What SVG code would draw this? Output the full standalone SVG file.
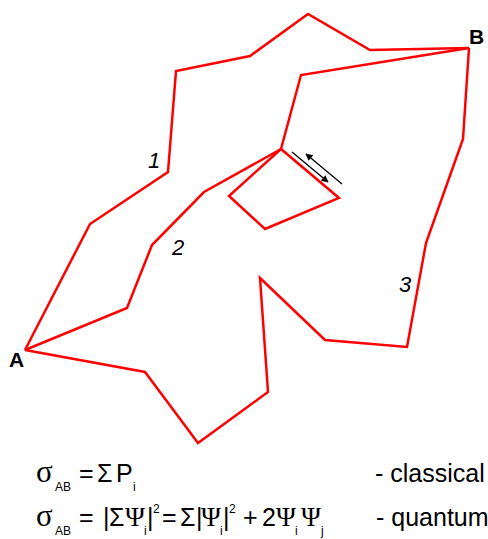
<svg xmlns="http://www.w3.org/2000/svg" width="488" height="539" viewBox="0 0 488 539">
<style>
.p{fill:none;stroke:#ff0000;stroke-width:2.5;stroke-linejoin:miter}
.a{stroke:#000;stroke-width:1.3;fill:none}
.t{font-family:"Liberation Sans",Arial,sans-serif;fill:#000}
.f{font-family:"Liberation Sans",Arial,sans-serif;font-size:25px;fill:#000}
.g{font-family:"Liberation Serif","Times New Roman",serif;font-size:27px;fill:#000}
.sg{font-family:"Liberation Serif","Times New Roman",serif;font-size:31px;fill:#000}
.s{font-family:"Liberation Sans",Arial,sans-serif;font-size:12px;fill:#000}
</style>
<defs>
<marker id="ah" viewBox="0 0 10 10" refX="9" refY="5" markerWidth="9" markerHeight="7" orient="auto" markerUnits="userSpaceOnUse">
<path d="M0,0L10,5L0,10z" fill="#000"/>
</marker>
</defs>
<g id="connectors">
<polyline id="path1" class="p" points="25,350 90,224 168,172 176,71 250,56 308,14 370,50 469,48"/>
<polyline id="path2" class="p" points="25,350 127,308 152,245 204,192 281,149 301,75 469,48"/>
<polygon id="loop" class="p" points="281,149 229,196 265,229 339,198"/>
<polyline id="path3" class="p" points="25,350 145,372 198,443 268,392 260,278 325,340 407,347 426,243 463,139 469,48"/>
<line class="a" x1="292" y1="152" x2="328" y2="182" marker-end="url(#ah)"/>
<line class="a" x1="342" y1="184" x2="306" y2="154" marker-end="url(#ah)"/>
</g>
<g id="A"><text class="t" x="9" y="367" font-size="21" font-weight="bold">A</text></g>
<g id="B"><text class="t" x="469" y="44" font-size="21" font-weight="bold">B</text></g>
<g id="l1"><text class="t" x="148" y="168" font-size="22" font-style="italic">1</text></g>
<g id="l2"><text class="t" x="172" y="255" font-size="22" font-style="italic">2</text></g>
<g id="l3"><text class="t" x="399" y="292" font-size="22" font-style="italic">3</text></g>
<g id="formula1">
<text class="sg" x="36" y="482">σ</text>
<text class="s" x="55" y="491">AB</text>
<text class="f" x="79" y="482">=</text>
<text class="f" x="97" y="482">Σ</text>
<text class="f" x="116" y="482">P</text>
<text class="s" x="133" y="491">i</text>
<text class="f" x="375" y="482">- classical</text>
</g>
<g id="formula2">
<text class="sg" x="36" y="526">σ</text>
<text class="s" x="55" y="535">AB</text>
<text class="f" x="79" y="526">=</text>
<text class="f" x="103" y="526">|</text>
<text class="f" x="109" y="526">Σ</text>
<text class="g" x="125" y="526">Ψ</text>
<text class="s" x="144" y="535">i</text>
<text class="f" x="147" y="526">|</text>
<text class="s" x="153" y="513">2</text>
<text class="f" x="162" y="526">=</text>
<text class="f" x="180" y="526">Σ</text>
<text class="f" x="196" y="526">|</text>
<text class="g" x="201" y="526">Ψ</text>
<text class="s" x="220" y="535">i</text>
<text class="f" x="223" y="526">|</text>
<text class="s" x="229" y="513">2</text>
<text class="f" x="243" y="526">+</text>
<text class="f" x="262" y="526">2</text>
<text class="g" x="276" y="526">Ψ</text>
<text class="s" x="295" y="535">i</text>
<text class="g" x="301" y="526">Ψ</text>
<text class="s" x="321" y="535">j</text>
<text class="f" x="376" y="526">- quantum</text>
</g>
</svg>
